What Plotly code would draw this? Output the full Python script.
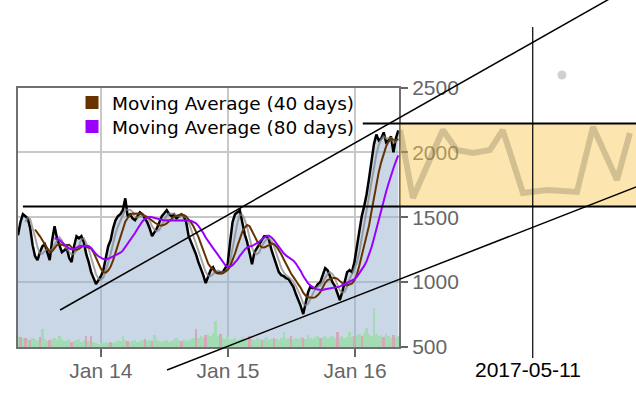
import pandas as pd
import numpy as np
import plotly.graph_objects as go

# ---------------- data ----------------
start_date = "2013-05-08"          # first weekly close shown
price = [
    1362, 1462, 1523, 1508, 1492, 1415, 1285, 1200, 1169, 1231,
    1277, 1292, 1231, 1169, 1323, 1431, 1338, 1292, 1231, 1246,
    1262, 1185, 1154, 1277, 1354, 1338, 1354, 1308, 1215, 1154,
    1077, 1031, 985, 1015, 1046, 1092, 1185, 1277, 1323, 1415,
    1477, 1508, 1523, 1554, 1646, 1508, 1523, 1492, 1477, 1508,
    1538, 1523, 1492, 1462, 1415, 1354, 1385, 1415, 1462, 1508,
    1531, 1554, 1523, 1508, 1523, 1492, 1508, 1523, 1508, 1462,
    1354, 1308, 1269, 1215, 1154, 1108, 1054, 992, 1046, 1092,
    1115, 1077, 1069, 1077, 1077, 1108, 1138, 1308, 1462, 1523,
    1538, 1554, 1462, 1369, 1308, 1231, 1138, 1231, 1262, 1292,
    1323, 1354, 1354, 1323, 1246, 1185, 1123, 1077, 1054, 1046,
    1031, 1023, 992, 962, 908, 862, 815, 754, 846, 923,
    969, 954, 954, 985, 1000, 1062, 1108, 1092, 1046, 1000,
    969, 923, 862, 923, 1000, 1077, 1092, 1077, 1154, 1277,
    1415, 1508, 1585, 1677, 1800, 1938, 2062, 2138, 2092, 2108,
    2154, 2077, 2092, 2123, 2000, 2108, 2169,
]
volume = [
    13, 11, 10, 10, 9, 8, 10, 9, 8, 11,
    19, 9, 7, 8, 9, 10, 8, 12, 9, 7,
    8, 9, 6, 7, 8, 9, 6, 8, 12, 7,
    12, 6, 5, 4, 5, 5, 6, 5, 6, 5,
    6, 8, 7, 12, 8, 7, 6, 7, 8, 6,
    7, 8, 9, 7, 8, 7, 13, 8, 7, 6,
    7, 8, 6, 7, 9, 10, 8, 7, 9, 7,
    8, 9, 10, 19, 10, 12, 11, 13, 14, 12,
    15, 27, 12, 14, 10, 9, 12, 8, 9, 10,
    8, 9, 11, 9, 8, 12, 9, 8, 10, 9,
    8, 9, 11, 8, 9, 10, 9, 8, 10, 16,
    9, 10, 12, 9, 10, 9, 11, 10, 9, 13,
    10, 9, 11, 12, 10, 11, 12, 10, 11, 12,
    10, 16, 11, 12, 10, 11, 16, 11, 12, 13,
    14, 12, 15, 20, 14, 12, 40, 14, 12, 13,
    11, 14, 12, 10, 13, 11, 12,
]
# weeks whose volume bar is drawn in the "down" colour
down_weeks = [1, 3, 5, 9, 13, 22, 28, 30, 38, 45, 52, 55, 67, 73, 77, 83, 95,
              100, 105, 112, 117, 124, 131, 138, 141, 150, 154]
x_ticks = ["2014-01-01", "2015-01-01", "2016-01-01"]
x_tick_labels = ["Jan 14", "Jan 15", "Jan 16"]
y_ticks = [500, 1000, 1500, 2000, 2500]
legend_names = ["Moving Average (40 days)", "Moving Average (80 days)"]

# hand-drawn analysis overlays (date, value)
upper_trend_dates = ["2013-09-06", "2018-01-30"]
upper_trend_values = [785, 3228]
lower_trend_dates = ["2014-07-10", "2018-03-29"]
lower_trend_values = [323, 1745]
support_dates = ["2013-05-22", "2018-03-29"]
support_value = 1583
resist_dates = ["2016-01-23", "2018-03-29"]
resist_value = 2222
band_dates = ["2016-05-09", "2018-03-29"]
band_values = [1583, 2222]
sketch_dates = ["2016-05-09", "2016-06-15", "2016-09-09", "2016-10-19", "2016-12-04",
                "2017-01-22", "2017-02-28", "2017-04-27", "2017-07-05", "2017-09-29",
                "2017-11-14", "2018-01-22", "2018-02-28"]
sketch_values = [2172, 1648, 2172, 2018, 1995, 2018, 2172, 1687, 1710, 1695, 2196, 1787, 2149]
vline_date = "2017-05-25"
vline_values = [415, 2966]
vline_label = "2017-05-11"
vline_label_date = "2017-05-11"
blob_date = ["2017-08-17"]
blob_value = [2596]

# ---------------- derived ----------------
dates = pd.date_range(start_date, periods=len(price), freq="7D")
s = pd.Series(price, index=dates, dtype=float)
ma_short = s.rolling(4).mean()
ma40 = s.rolling(8).mean()
ma80 = s.rolling(16).mean()
upper = pd.concat([s, ma40, ma80], axis=1).max(axis=1)
vol_colors = ["#d5a8b8" if i in down_weeks else "#a2dbb4" for i in range(len(price))]

# ---------------- layout geometry ----------------
W, H = 636, 395
pl, pr, pt, pb = 18, 399, 87.5, 347
x_lo, x_hi = pd.Timestamp("2013-05-08"), pd.Timestamp("2016-05-06")
y_lo, y_hi = 500, 2500
per_px = (x_hi - x_lo) / (pr - pl)
x2_range = [x_lo - per_px * pl, x_hi + per_px * (W - pr)]
vpp = (y_hi - y_lo) / (pb - pt)
y2_range = [y_lo - vpp * (H - pb), y_hi + vpp * pt]

fig = go.Figure()

# price area
fig.add_trace(go.Scatter(x=dates, y=price, mode="lines", line=dict(width=0),
                         fill="tozeroy", fillcolor="rgba(150,175,205,0.5)",
                         showlegend=False, hoverinfo="skip"))
fig.add_trace(go.Scatter(x=dates, y=upper, mode="lines", line=dict(width=0),
                         fill="tonexty", fillcolor="white",
                         showlegend=False, hoverinfo="skip"))
# price line
fig.add_trace(go.Scatter(x=dates, y=price, mode="lines",
                         line=dict(color="black", width=2.5),
                         showlegend=False))
fig.add_trace(go.Scatter(x=dates, y=ma_short, mode="lines",
                         line=dict(color="rgba(130,130,130,0.7)", width=2),
                         showlegend=False))
fig.add_trace(go.Scatter(x=dates, y=ma40, mode="lines",
                         line=dict(color="#663300", width=2), showlegend=False))
fig.add_trace(go.Scatter(x=dates, y=ma80, mode="lines",
                         line=dict(color="#9900ff", width=2), showlegend=False))
# legend entries (square swatches), one legend box per row
for name, col, lg in zip(legend_names, ["#663300", "#9900ff"], ["legend", "legend2"]):
    fig.add_trace(go.Scatter(x=[None], y=[None], mode="markers", name=name, legend=lg,
                             marker=dict(symbol="square", size=13, color=col)))

# volume
fig.add_trace(go.Bar(x=dates, y=volume, marker=dict(color=vol_colors, line=dict(width=0)),
                     width=7 * 86400000, yaxis="y3", showlegend=False))

# overlays on full-figure axes
ov = dict(xaxis="x2", yaxis="y2", showlegend=False, hoverinfo="skip")
fig.add_trace(go.Scatter(x=[band_dates[0], band_dates[1], band_dates[1], band_dates[0]],
                         y=[band_values[0], band_values[0], band_values[1], band_values[1]],
                         fill="toself", fillcolor="rgba(248,200,85,0.48)",
                         mode="lines", line=dict(width=0), **ov))
fig.add_trace(go.Scatter(x=sketch_dates, y=sketch_values, mode="lines",
                         line=dict(color="rgba(90,90,70,0.26)", width=6), **ov))
fig.add_trace(go.Scatter(x=upper_trend_dates, y=upper_trend_values, mode="lines",
                         line=dict(color="black", width=1.5), **ov))
fig.add_trace(go.Scatter(x=lower_trend_dates, y=lower_trend_values, mode="lines",
                         line=dict(color="black", width=1.5), **ov))
fig.add_trace(go.Scatter(x=support_dates, y=[support_value] * 2, mode="lines",
                         line=dict(color="black", width=2), **ov))
fig.add_trace(go.Scatter(x=resist_dates, y=[resist_value] * 2, mode="lines",
                         line=dict(color="black", width=2), **ov))
fig.add_trace(go.Scatter(x=[vline_date, vline_date], y=vline_values, mode="lines",
                         line=dict(color="black", width=1.2), **ov))
fig.add_trace(go.Scatter(x=blob_date, y=blob_value, mode="markers",
                         marker=dict(color="rgba(150,150,150,0.45)", size=9), **ov))

tickfont = dict(family="Liberation Sans, Arial", size=21, color="#666666")
axis_common = dict(showline=True, linecolor="#707070", linewidth=2, mirror=True,
                   showgrid=True, gridcolor="#c8c8c8", gridwidth=2, zeroline=False,
                   ticks="outside", tickcolor="#666666", tickwidth=1.5, tickfont=tickfont,
                   automargin=False)

legend_common = dict(xanchor="left", yanchor="top", bgcolor="rgba(0,0,0,0)",
                     font=dict(family="DejaVu Sans", size=18.5, color="black"))

fig.update_layout(
    width=W, height=H, autosize=False,
    margin=dict(l=0, r=0, t=0, b=0, pad=0, autoexpand=False),
    paper_bgcolor="white", plot_bgcolor="rgba(0,0,0,0)",
    bargap=0,
    xaxis=dict(domain=[pl / W, pr / W], range=[x_lo, x_hi], type="date",
               tickvals=x_ticks, ticktext=x_tick_labels, ticklen=8,
               ticklabelstandoff=-4, anchor="y", **axis_common),
    yaxis=dict(domain=[(H - pb) / H, (H - pt) / H], range=[y_lo, y_hi], side="right",
               tickvals=y_ticks, ticklen=7, anchor="x", **axis_common),
    yaxis3=dict(overlaying="y", range=[0, pb - pt], visible=False),
    xaxis2=dict(domain=[0, 1], range=x2_range, type="date", visible=False, anchor="y2"),
    yaxis2=dict(domain=[0, 1], range=y2_range, visible=False, anchor="x2"),
    legend=dict(x=72 / W, y=1 - 84 / H, **legend_common),
    legend2=dict(x=72 / W, y=1 - 108 / H, **legend_common),
    annotations=[dict(x=vline_label_date, y=y_lo - vpp * 22, xref="x2", yref="y2",
                      text=vline_label, showarrow=False,
                      font=dict(family="Liberation Sans, Arial", size=21, color="black"))],
)

fig.write_html("out.html", config={"displayModeBar": False},
               post_script="document.body.style.margin='0';document.body.style.overflow='hidden';")
